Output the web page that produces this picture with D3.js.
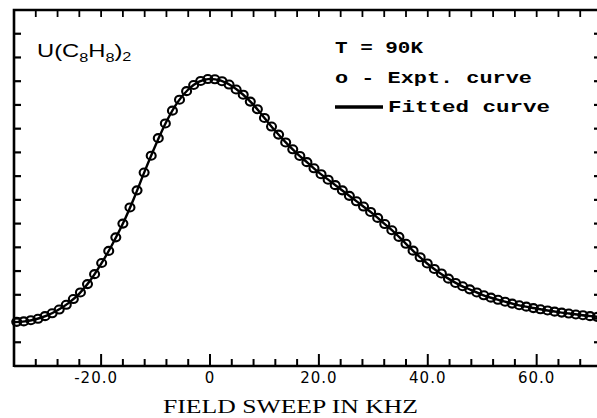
<!DOCTYPE html>
<html>
<head>
<meta charset="utf-8">
<script src="https://cdn.jsdelivr.net/npm/d3@7"></script>
<style>
  html, body { margin: 0; padding: 0; background: #fff; }
  svg { display: block; }
</style>
</head>
<body>
<script>
// ---- data ----
const xDomain = [-36, 72];
const yDomain = [0, 15];
const xTickLabels = ["-20.0", "0", "20.0", "40.0", "60.0"];
const xLabelValues = [-20, 0, 20, 40, 60];
const xTitle = "FIELD SWEEP IN KHZ";
const legendLines = ["T = 90K", "o - Expt. curve", "Fitted curve"];

// fitted curve (solid line)
const fitX = [-36, -34, -32, -30, -28, -26, -24, -22, -20, -18, -16, -14, -12, -10, -8, -6, -4, -2, 0,
  2, 4, 6, 8, 10, 12, 14, 16, 18, 20, 22, 24, 26, 28, 30, 32, 34, 36, 38, 40, 42, 44, 46, 48, 50,
  52, 54, 56, 58, 60, 62, 64, 66, 68, 70, 72];
const fitY = [1.85, 1.88, 1.97, 2.12, 2.35, 2.65, 3.05, 3.6, 4.3, 5.1, 6.0, 7.05, 8.2, 9.3, 10.3, 11.1, 11.65, 11.98, 12.1,
  12.02, 11.8, 11.45, 11.0, 10.45, 9.9, 9.4, 8.95, 8.55, 8.15, 7.8, 7.45, 7.1, 6.75, 6.4, 6.0, 5.6, 5.15, 4.7, 4.3, 3.95, 3.65, 3.4, 3.2, 3.0,
  2.85, 2.72, 2.6, 2.5, 2.42, 2.34, 2.27, 2.21, 2.15, 2.1, 2.06];

// experimental points (circles)
const exptX = [-35.5, -34.2, -32.9, -31.6, -30.3, -29.0, -27.7, -26.4, -25.1, -23.8, -22.5, -21.2, -19.9, -18.6,
  -17.3, -16.0, -14.7, -13.4, -12.1, -10.8, -9.5, -8.2, -6.9, -5.6, -4.3, -3.0, -1.7, -0.4, 0.9, 2.2, 3.5, 4.8,
  6.1, 7.4, 8.7, 10.0, 11.3, 12.6, 13.9, 15.2, 16.5, 17.8, 19.1, 20.4, 21.7, 23.0, 24.3, 25.6, 26.9, 28.2, 29.5,
  30.8, 32.1, 33.4, 34.7, 36.0, 37.3, 38.6, 39.9, 41.2, 42.5, 43.8, 45.1, 46.4, 47.7, 49.0, 50.3, 51.6, 52.9,
  54.2, 55.5, 56.8, 58.1, 59.4, 60.7, 62.0, 63.3, 64.6, 65.9, 67.2, 68.5, 69.8, 71.1];
const exptY = [1.86, 1.88, 1.93, 1.99, 2.10, 2.22, 2.38, 2.58, 2.82, 3.10, 3.45, 3.87, 4.34, 4.85,
  5.42, 6.00, 6.68, 7.40, 8.15, 8.86, 9.60, 10.22, 10.76, 11.22, 11.58, 11.84, 12.01, 12.09, 12.08, 12.00, 11.86, 11.65,
  11.43, 11.14, 10.82, 10.45, 10.09, 9.75, 9.42, 9.13, 8.85, 8.59, 8.33, 8.08, 7.85, 7.62, 7.40, 7.17, 6.94, 6.72, 6.49,
  6.24, 5.98, 5.72, 5.44, 5.15, 4.86, 4.58, 4.32, 4.09, 3.90, 3.68, 3.50, 3.36, 3.23, 3.10, 2.98, 2.88, 2.79,
  2.71, 2.63, 2.56, 2.50, 2.44, 2.39, 2.34, 2.29, 2.25, 2.21, 2.17, 2.14, 2.10, 2.07];

// ---- drawing ----
const W = 597, H = 418;
const svg = d3.select("body").append("svg").attr("width", W).attr("height", H);

const x = d3.scaleLinear().domain(xDomain).range([14, 602]);
const y = d3.scaleLinear().domain(yDomain).range([366, 10]);

const ink = "#000";

const xTicks = d3.range(-32, 72, 4);
const yTicks = d3.range(1, 15, 1);

// bottom axis ticks (inward, major every 20)
svg.append("g").selectAll("line").data(xTicks).join("line")
  .attr("x1", d => x(d)).attr("x2", d => x(d))
  .attr("y1", y(0)).attr("y2", d => y(0) - (d % 20 === 0 ? 12 : 7))
  .attr("stroke", ink).attr("stroke-width", 2);

// top axis ticks
svg.append("g").selectAll("line").data(xTicks).join("line")
  .attr("x1", d => x(d)).attr("x2", d => x(d))
  .attr("y1", y(15)).attr("y2", y(15) + 7)
  .attr("stroke", ink).attr("stroke-width", 1.8);

// left ticks
svg.append("g").selectAll("line").data(yTicks).join("line")
  .attr("x1", x(-36)).attr("x2", x(-36) + 7)
  .attr("y1", d => y(d)).attr("y2", d => y(d))
  .attr("stroke", ink).attr("stroke-width", 2.2);

// right ticks
svg.append("g").selectAll("line").data(yTicks).join("line")
  .attr("x1", x(72)).attr("x2", x(72) - 8)
  .attr("y1", d => y(d)).attr("y2", d => y(d))
  .attr("stroke", ink).attr("stroke-width", 2.2);

// frame
svg.append("path")
  .attr("d", `M${x(72)},${y(15)} L${x(-36)},${y(15)} L${x(-36)},${y(0) + 1} M${x(-36)},${y(0)} L${x(72)},${y(0)}`)
  .attr("fill", "none").attr("stroke", ink).attr("stroke-width", 2.6);

// x tick labels
svg.append("g").selectAll("text").data(xLabelValues).join("text")
  .attr("x", d => x(d) - (d < 0 ? 5 : 0))
  .attr("y", 383)
  .attr("text-anchor", "middle")
  .attr("font-family", "'DejaVu Sans', sans-serif")
  .attr("font-size", 15)
  .attr("letter-spacing", 1)
  .attr("fill", ink)
  .text((d, i) => xTickLabels[i]);

// x axis title
svg.append("text")
  .attr("x", 163).attr("y", 413)
  .attr("font-family", "'Liberation Serif', serif")
  .attr("font-size", 19)
  .attr("textLength", 255).attr("lengthAdjust", "spacingAndGlyphs")
  .attr("fill", ink)
  .text(xTitle);

// compound label U(C8H8)2
const lab = svg.append("text")
  .attr("transform", "translate(37,57) scale(1.25,1)")
  .attr("font-family", "'Liberation Sans', Arial, sans-serif")
  .attr("font-size", 19)
  .attr("fill", ink);
lab.append("tspan").text("U(C");
lab.append("tspan").attr("font-size", 13).attr("dy", 5).text("8");
lab.append("tspan").attr("dy", -5).text("H");
lab.append("tspan").attr("font-size", 13).attr("dy", 5).text("8");
lab.append("tspan").attr("dy", -5).text(")");
lab.append("tspan").attr("font-size", 13).attr("dy", 4).text("2");

// legend
const legFont = "'Liberation Mono', 'Courier New', monospace";
svg.append("text").attr("x", 335).attr("y", 53)
  .attr("font-family", legFont).attr("font-weight", "bold").attr("font-size", 17)
  .attr("textLength", 88).attr("lengthAdjust", "spacingAndGlyphs").attr("fill", ink).text(legendLines[0]);
svg.append("text").attr("x", 335).attr("y", 83)
  .attr("font-family", legFont).attr("font-weight", "bold").attr("font-size", 17)
  .attr("textLength", 197).attr("lengthAdjust", "spacingAndGlyphs").attr("fill", ink).text(legendLines[1]);
svg.append("line").attr("x1", 335).attr("x2", 383).attr("y1", 107).attr("y2", 107)
  .attr("stroke", ink).attr("stroke-width", 3.4);
svg.append("text").attr("x", 388).attr("y", 112)
  .attr("font-family", legFont).attr("font-weight", "bold").attr("font-size", 17)
  .attr("textLength", 162).attr("lengthAdjust", "spacingAndGlyphs").attr("fill", ink).text(legendLines[2]);

// fitted curve
const fitData = fitX.map((v, i) => [v, fitY[i]]);
svg.append("path")
  .datum(fitData)
  .attr("d", d3.line().x(d => x(d[0])).y(d => y(d[1])).curve(d3.curveMonotoneX))
  .attr("fill", "none").attr("stroke", ink).attr("stroke-width", 2.4);

// experimental circles
const exptData = exptX.map((v, i) => [v, exptY[i]]);
svg.append("g").selectAll("ellipse").data(exptData).join("ellipse")
  .attr("cx", d => x(d[0])).attr("cy", d => y(d[1]))
  .attr("rx", 4.5).attr("ry", 4)
  .attr("fill", "none").attr("stroke", ink).attr("stroke-width", 2.1);
</script>
</body>
</html>
